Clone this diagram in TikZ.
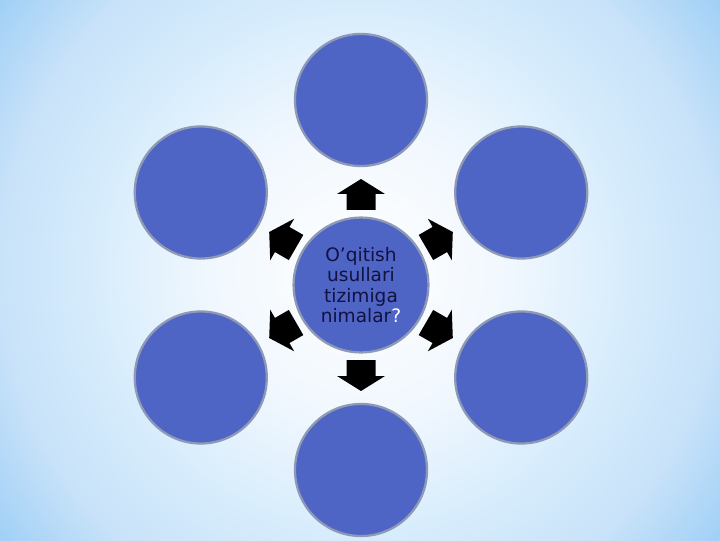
\documentclass[tikz,border=0pt]{standalone}
\usepackage{fontspec}
\setmainfont{DejaVu Sans}
\usepackage{tikz}
\usetikzlibrary{calc}
\definecolor{bgin}{HTML}{FFFFFF}
\definecolor{bgmid}{HTML}{F0F7FE}
\definecolor{bgtop}{HTML}{D6ECFC}
\definecolor{bgrim}{HTML}{C8E2F9}
\definecolor{bgout}{HTML}{A0D0F6}
\definecolor{cf}{HTML}{4F65C6}
\definecolor{cb}{HTML}{8D99B5}
\definecolor{tx}{HTML}{121240}
% the circle edge sits at 25bp
\pgfdeclareradialshading{bgshade}{\pgfpoint{0bp}{0bp}}{%
  color(0bp)=(bgin); color(8.5bp)=(bgmid); color(15bp)=(bgtop); color(20bp)=(bgrim); color(25bp)=(bgout); color(50bp)=(bgout)}
\tikzset{
  bubble/.style={circle, fill=cf, draw=cb, line width=1.6pt, minimum size=3.3cm, inner sep=0pt},
  blockarrow/.style={fill=black}
}

\begin{document}
\begin{tikzpicture}[x=0.025cm, y=0.025cm]

  % Background
  \useasboundingbox (0,0) rectangle (720,540);
  \begin{scope}
    \clip (0,0) rectangle (720,540);
    \shade[shading=bgshade] (360,270) circle (450);
  \end{scope}

  % Centre
  \node[bubble, minimum size=3.37cm, align=center, text=tx, font=\fontsize{13.2}{14.4}\selectfont] (c) at (361,255)
    {O’qitish\\usullari\\tizimiga\\nimalar\textcolor{white}{?}};

  % Outer circles
  \node[bubble] (top) at ($(c)+(90:185)$) {};
  \node[bubble] (ur)  at ($(c)+(30:185)$) {};
  \node[bubble] (lr)  at ($(c)+(-30:185)$) {};
  \node[bubble] (bot) at ($(c)+(-90:185)$) {};
  \node[bubble] (ll)  at ($(c)+(-150:185)$) {};
  \node[bubble] (ul)  at ($(c)+(150:185)$) {};

  % Arrows
  \foreach \a in {90,30,-30,-90,-150,150} {
    \fill[blockarrow, shift={(c)}, rotate=\a] (75,-14.5) -- (91,-14.5) -- (91,-24)
      -- (106,0) -- (91,24) -- (91,14.5) -- (75,14.5) -- cycle;
  }
\end{tikzpicture}
\end{document}
